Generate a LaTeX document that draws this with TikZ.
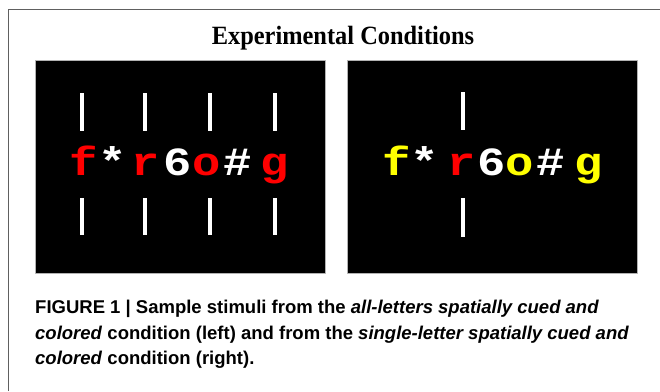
\documentclass[tikz,border=0pt]{standalone}
\usepackage{fontspec}
\usepackage{xcolor}
\usepackage{tikz}
\newfontfamily\titlefont{Liberation Serif}
\newfontfamily\capfont{Liberation Sans}
\newfontfamily\stimfont{Liberation Mono}
\definecolor{cuered}{RGB}{255,0,0}
\definecolor{cueyellow}{RGB}{255,255,0}

\begin{document}
\begin{tikzpicture}[x=1pt,y=-1pt,line join=round,
  panel/.style={fill=black,draw=gray!60,line width=0.8pt},
  cue/.style={white,line width=4pt},
  glyph/.style={anchor=base,inner sep=0pt,xscale=1.18,font=\stimfont\bfseries\fontsize{40}{40}\selectfont},
  capline/.style={anchor=base west,inner sep=0pt,font=\capfont\bfseries\fontsize{18.5}{22}\selectfont}]
  \useasboundingbox (0,0) rectangle (660,391);
  \fill[white] (0,0) rectangle (660,391);
  % outer frame
  \draw[gray!75!black,line width=1.6pt] (8.5,391) -- (8.5,9.5) -- (660,9.5);
  \node[font=\titlefont\bfseries\fontsize{24.4}{28}\selectfont,inner sep=0pt,yscale=1.08] (title) at (343,38) {Experimental Conditions};
  % panels
  \draw[panel] (35,60) rectangle (325,273);
  \draw[panel] (347,60) rectangle (637,273);
  % left panel: all letters cued
  \draw[cue] (82,93) -- (82,131);
  \draw[cue] (145,93) -- (145,131);
  \draw[cue] (210,93) -- (210,131);
  \draw[cue] (275,93) -- (275,131);
  \draw[cue] (82,198) -- (82,235);
  \draw[cue] (145,198) -- (145,235);
  \draw[cue] (210,198) -- (210,235);
  \draw[cue] (275,198) -- (275,235);
  \node[glyph,cuered] (Lf) at (84,175) {f};
  \node[glyph,white] (Las) at (113,175) {*};
  \node[glyph,cuered] (Lr) at (146,175) {r};
  \node[glyph,white] (L6) at (178,175) {6};
  \node[glyph,cuered] (Lo) at (207,175) {o};
  \node[glyph,white] (Lh) at (238,175) {\#};
  \node[glyph,cuered] (Lg) at (275,175) {g};
  % right panel: single letter cued
  \draw[cue] (463,92) -- (463,130);
  \draw[cue] (463,198) -- (463,237);
  \node[glyph,cueyellow] (Rf) at (397,175) {f};
  \node[glyph,white] (Ras) at (425,175) {*};
  \node[glyph,cuered] (Rr) at (462,175) {r};
  \node[glyph,white] (R6) at (492,175) {6};
  \node[glyph,cueyellow] (Ro) at (520,175) {o};
  \node[glyph,white] (Rh) at (551,175) {\#};
  \node[glyph,cueyellow] (Rg) at (589,175) {g};
  % caption
  \node[capline] (cap1) at (35,313) {FIGURE 1 | Sample stimuli from the \textit{all-letters spatially cued and}};
  \node[capline] (cap2) at (35,339) {\textit{colored} condition (left) and from the \textit{single-letter spatially cued and}};
  \node[capline] (cap3) at (35,364) {\textit{colored} condition (right).};
\end{tikzpicture}
\end{document}
